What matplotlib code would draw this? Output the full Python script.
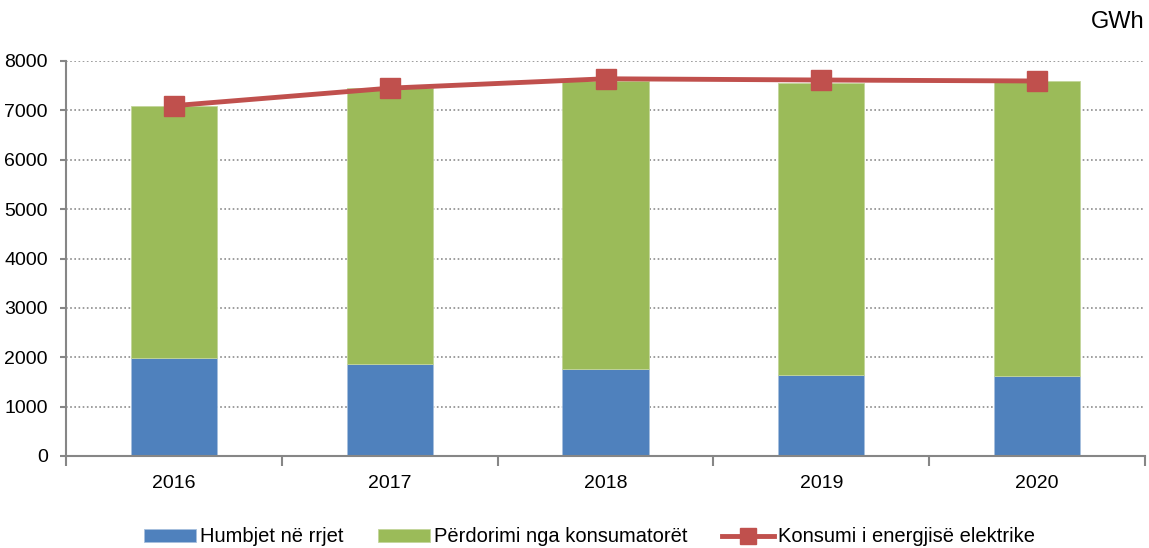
import matplotlib.pyplot as plt
import numpy as np

# data (GWh)
years = ["2016", "2017", "2018", "2019", "2020"]
losses = [1990, 1870, 1765, 1650, 1630]
usage = [5100, 5580, 5825, 5910, 5960]
consumption = [7095, 7450, 7640, 7615, 7595]

blue = "#4F81BD"
green = "#9BBB59"
red = "#C0504D"
axis_grey = "#868686"

plt.rcParams["font.family"] = ["Liberation Sans", "DejaVu Sans"]

fig = plt.figure(figsize=(11.49, 5.48), dpi=100)
ax = fig.add_axes([66 / 1149, 92 / 548, 1079 / 1149, 395 / 548])

x = np.arange(len(years))
b1 = ax.bar(x, losses, width=0.4, color=blue, edgecolor="#A7C0DE", linewidth=0.6,
            label="Humbjet në rrjet", zorder=2)
b2 = ax.bar(x, usage, width=0.4, bottom=losses, color=green, edgecolor="#C3D69B",
            linewidth=0.6, label="Përdorimi nga konsumatorët", zorder=2)
l1, = ax.plot(x, consumption, color=red, linewidth=3.5, marker="s", markersize=14,
              label="Konsumi i energjisë elektrike", zorder=3)

ax.set_xlim(-0.5, len(years) - 0.5)
ax.set_ylim(0, 8000)
ax.set_yticks(range(0, 8001, 1000))
ax.yaxis.grid(True, linestyle=(0, (1, 1.5)), color="#8C8C8C", linewidth=1.2, zorder=0)
ax.set_axisbelow(True)

ax.set_xticks(x)
ax.set_xticklabels(years)
ax.set_xticks(np.arange(-0.5, len(years)), minor=True)
ax.tick_params(axis="x", which="major", length=0, pad=14, labelsize=14)
ax.tick_params(axis="x", which="minor", length=7, width=1.5, color=axis_grey)
ax.tick_params(axis="y", length=4, width=1.5, color=axis_grey, pad=9, labelsize=14)

for side in ["top", "right"]:
    ax.spines[side].set_visible(False)
for side in ["left", "bottom"]:
    ax.spines[side].set_color(axis_grey)
    ax.spines[side].set_linewidth(1.5)

fig.text(1145 / 1149, 1 - 22 / 548, "GWh", ha="right", va="center", fontsize=17)

fig.legend(handles=[b1, b2, l1], loc="center", bbox_to_anchor=(0.513, 1 - 537 / 548),
           ncol=3, frameon=False, fontsize=14.5, handlelength=2.6, handleheight=0.6,
           handletextpad=0.2, columnspacing=1.7, markerscale=0.85)

fig.savefig("out.png", dpi=100)
